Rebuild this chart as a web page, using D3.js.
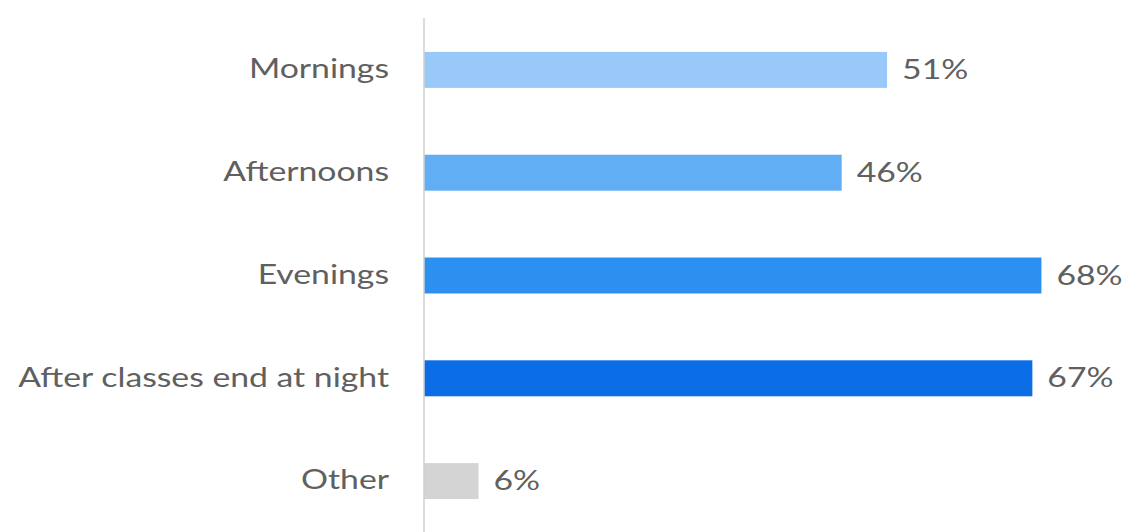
<!DOCTYPE html>
<html>
<head>
<meta charset="utf-8">
<script src="https://cdn.jsdelivr.net/npm/d3@7"></script>
<style>
  html, body { margin: 0; padding: 0; background: #fff; }
  svg { display: block; }
</style>
</head>
<body>
<svg id="chart" width="1126" height="532"></svg>
<script>
// Share of responses by time of day
const categories = ["Mornings", "Afternoons", "Evenings", "After classes end at night", "Other"];
const values = [51, 46, 68, 67, 6];
const barColors = ["#99c9f8", "#62aef5", "#2b90f0", "#0b6ee6", "#d4d4d4"];

const width = 1126, height = 532;
const axisX = 424;
const fontFamily = "Lato, 'Open Sans', sans-serif";
const fontSize = 26;
const fontWeight = 400;
const textColor = "#606060";
const labelRight = 389;      // right edge of the category labels
const labelLeft = 18;        // left edge of the longest category label

const svg = d3.select("#chart");

const x = d3.scaleLinear().domain([0, 100]).range([axisX, axisX + 908]);
const y = d3.scaleBand().domain(categories).range([18, 533]).paddingInner(0.65).paddingOuter(0.33);

// bars
svg.append("g").selectAll("rect")
  .data(categories)
  .join("rect")
  .attr("x", x(0))
  .attr("y", d => y(d))
  .attr("width", (d, i) => x(values[i]) - x(0))
  .attr("height", y.bandwidth())
  .attr("fill", (d, i) => barColors[i]);

// category axis: vertical rule plus labels on the left
const yAxis = svg.append("g")
  .attr("transform", `translate(${axisX},0)`)
  .call(d3.axisLeft(y).tickSize(0));
yAxis.select(".domain").attr("stroke", "#d0d0d0").attr("stroke-width", 1.5)
  .attr("d", "M0,18V532");
const catText = yAxis.selectAll("text")
  .attr("fill", textColor)
  .style("font-family", fontFamily)
  .style("font-size", fontSize + "px")
  .style("font-weight", fontWeight)
  .attr("x", 0);

// the labels use a horizontally widened face
let widest = 0;
catText.each(function () { widest = Math.max(widest, this.getComputedTextLength()); });
const sx = (labelRight - labelLeft) / widest;
catText.attr("transform", `translate(${labelRight - axisX},0) scale(${sx},1)`);

// value labels
svg.append("g").selectAll("text")
  .data(categories)
  .join("text")
  .attr("transform", (d, i) => `translate(${x(values[i]) + 15},${y(d) + y.bandwidth() / 2}) scale(${sx},1)`)
  .attr("dy", "0.35em")
  .attr("fill", textColor)
  .style("font-family", fontFamily)
  .style("font-size", fontSize + "px")
  .style("font-weight", fontWeight)
  .text((d, i) => values[i] + "%");
</script>
</body>
</html>
